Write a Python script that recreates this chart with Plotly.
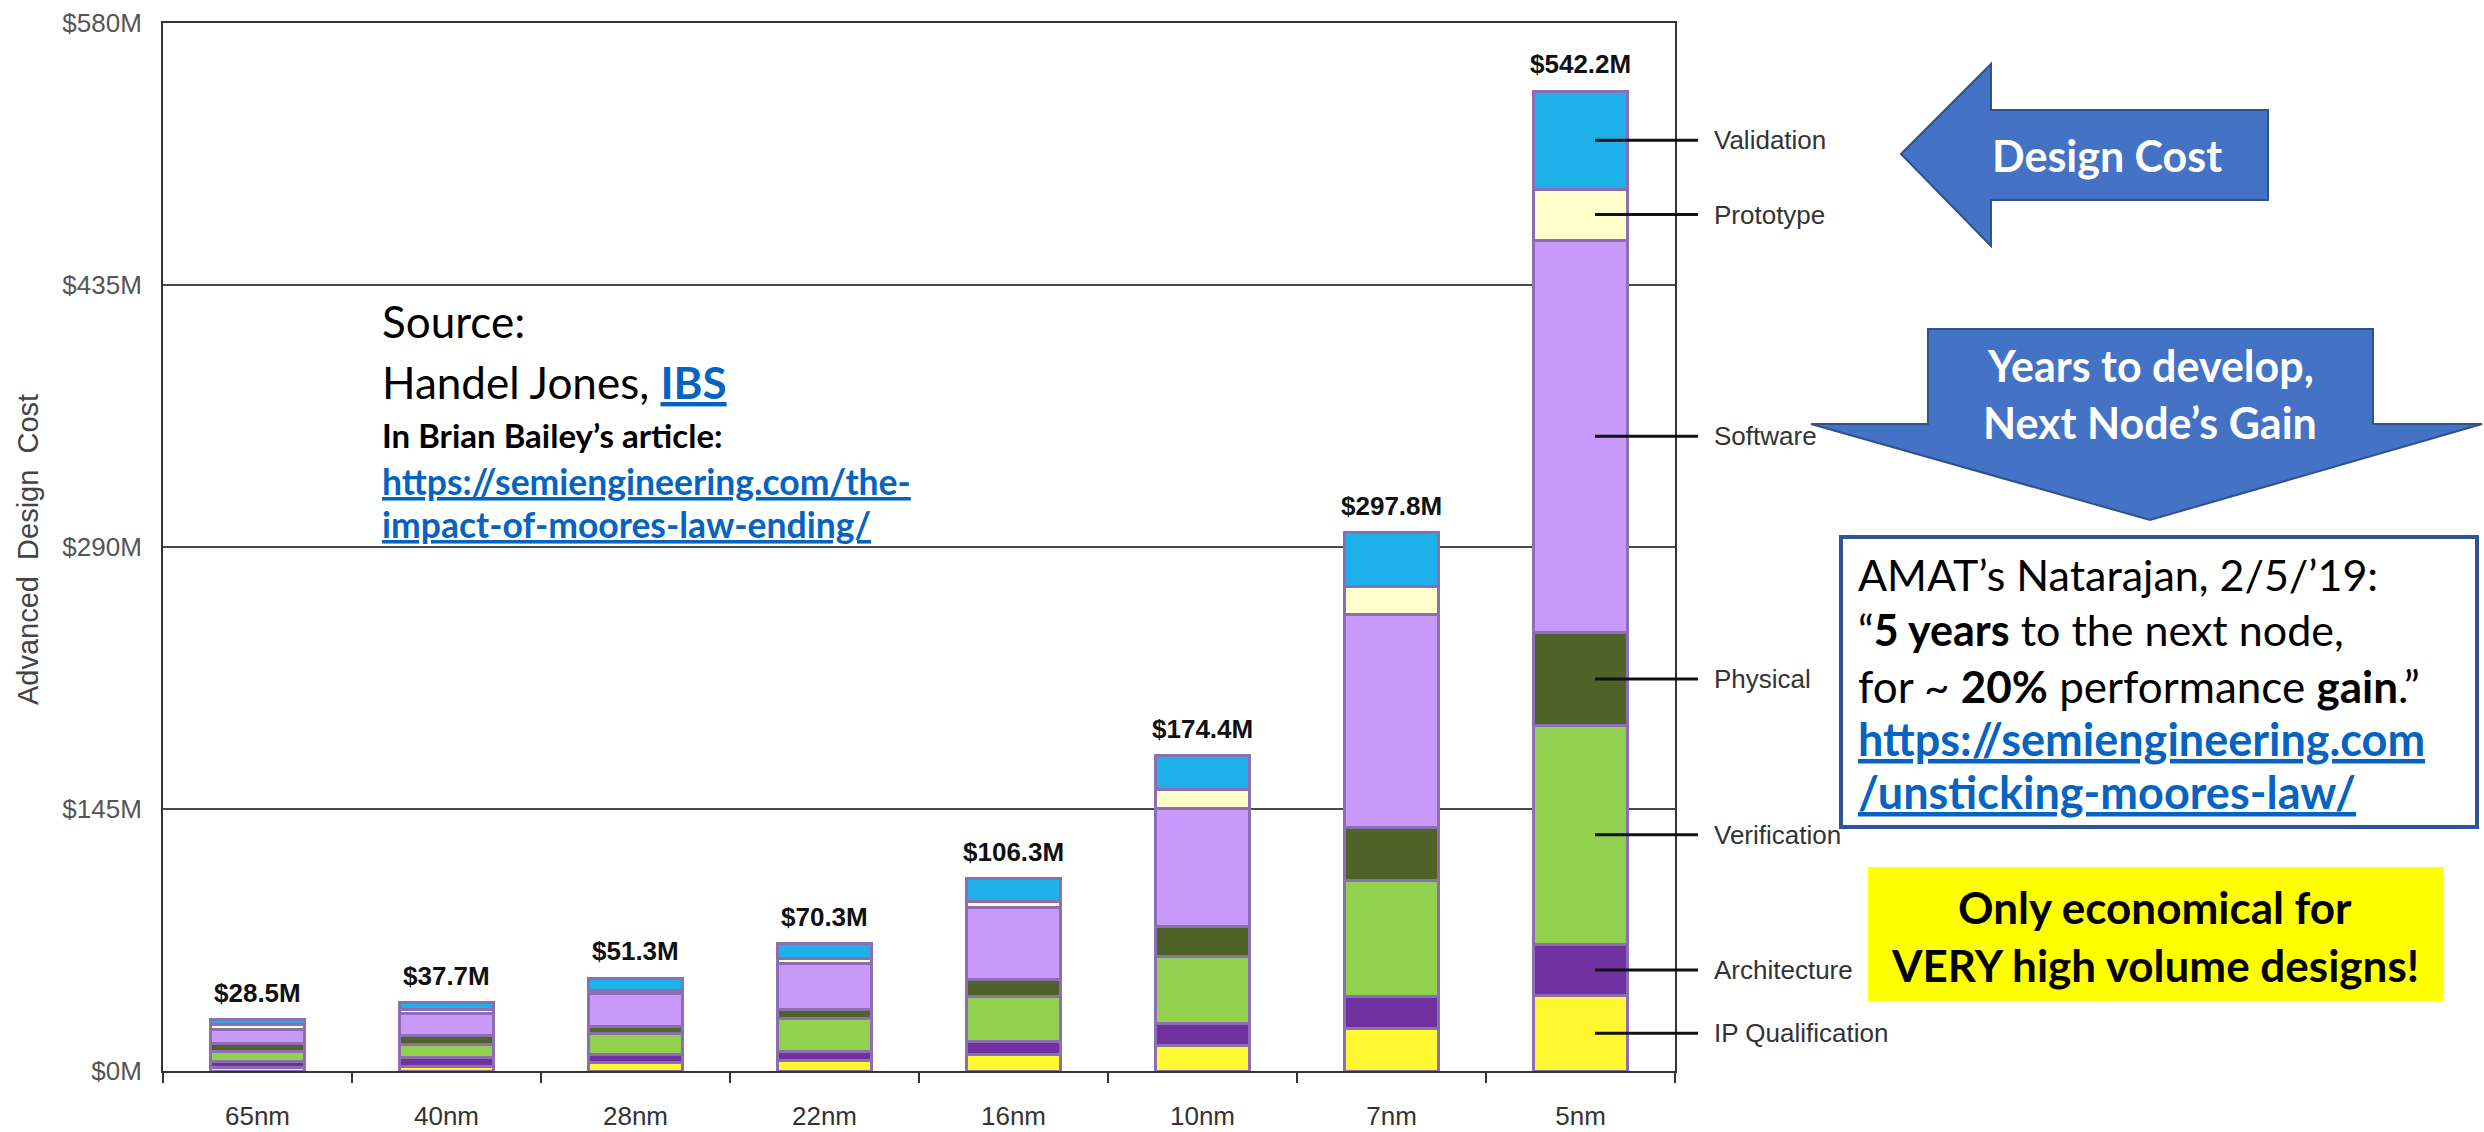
import plotly.graph_objects as go

# ---------------- data ----------------
nodes = ["65nm", "40nm", "28nm", "22nm", "16nm", "10nm", "7nm", "5nm"]
ip_qualification = [2.0, 2.7, 4.5, 5.8, 9.1, 14.2, 23.3, 41.7]
architecture = [3.5, 4.5, 4.5, 5.1, 7.5, 12.1, 18.2, 28.4]
verification = [5.5, 7.6, 11.8, 17.9, 24.9, 36.8, 64.1, 121.3]
physical = [4.0, 5.1, 3.6, 5.5, 9.1, 16.8, 28.9, 51.2]
software = [8.0, 11.8, 18.4, 25.0, 40.0, 65.6, 118.3, 217.3]
prototype = [2.5, 2.4, 1.8, 3.0, 3.4, 10.5, 15.2, 28.1]
validation = [3.0, 3.6, 6.7, 8.0, 12.3, 18.4, 29.8, 54.2]
totals = [28.5, 37.7, 51.3, 70.3, 106.3, 174.4, 297.8, 542.2]

series_names = ["IP Qualification", "Architecture", "Verification", "Physical",
                "Software", "Prototype", "Validation"]
series_values = [ip_qualification, architecture, verification, physical,
                 software, prototype, validation]
series_colors = ["#FFF830", "#7030A0", "#92D050", "#4F6228",
                 "#C999FA", "#FFFFCC", "#1EB0E8"]

y_tickvals = [0, 145, 290, 435, 580]
y_ticktext = ["$0M", "$145M", "$290M", "$435M", "$580M"]
Y_MAX = 580

# ---------------- layout geometry (pixels) ----------------
W, H = 2484, 1132
L, R, T, B = 163, 1675, 23, 1071


def px(x):
    return (x - L) / (R - L)


def py(y):
    return (B - y) / (B - T)


fig = go.Figure()
for name, vals, col in zip(series_names, series_values, series_colors):
    fig.add_trace(go.Bar(
        x=nodes, y=vals, name=name, width=0.5,
        marker=dict(color=col, line=dict(color="#8C6FB2", width=3)),
        hoverinfo="skip",
    ))

annotations = []
# totals on top of bars
for n, t in zip(nodes, totals):
    annotations.append(dict(
        x=n, y=t, xref="x", yref="y", text=f"<b>${t}M</b>", showarrow=False,
        yanchor="bottom", yshift=10,
        font=dict(family="Liberation Sans, Arial", size=26, color="#111111"),
    ))

# right-side component labels with leader lines, at 5nm segment midpoints
shapes = []
last = [v[-1] for v in series_values]
cum = 0
for name, v in zip(series_names, last):
    mid = cum + v / 2
    cum += v
    shapes.append(dict(type="line", xref="paper", yref="paper",
                       x0=px(1595), x1=px(1698), y0=mid / Y_MAX, y1=mid / Y_MAX,
                       line=dict(color="#111111", width=3)))
    annotations.append(dict(
        x=px(1712), y=mid, xref="paper", yref="y", text=name, showarrow=False,
        xanchor="left", yanchor="middle",
        font=dict(family="Liberation Sans, Arial", size=26, color="#333333"),
    ))

# y-axis title
annotations.append(dict(
    x=px(28), y=py(550), xref="paper", yref="paper",
    text="Advanced  Design  Cost", textangle=-90, showarrow=False,
    xanchor="center", yanchor="middle",
    font=dict(family="Liberation Sans Narrow, Liberation Sans, Arial", size=29, color="#444444"),
))

TXT = "Lato, Open Sans, sans-serif"
LINK = "#0563C1"


def txt(x, y, text, size, color="#000000", xanchor="left"):
    annotations.append(dict(
        x=px(x), y=py(y), xref="paper", yref="paper", text=text, showarrow=False,
        xanchor=xanchor, yanchor="middle", align="left",
        font=dict(family=TXT, size=size, color=color),
    ))


# Source block
txt(380, 321, "Source:", 44)
txt(380, 382, f"Handel Jones, <span style='color:{LINK}'><b><u>IBS</u></b></span>", 44)
txt(380, 435, "<b>In Brian Bailey’s article:</b>", 33)
txt(380, 481, f"<span style='color:{LINK}'><b><u>https://semiengineering.com/the-</u></b></span>", 35.5)
txt(380, 524, f"<span style='color:{LINK}'><b><u>impact-of-moores-law-ending/</u></b></span>", 35.5)

# Design Cost arrow (left)
shapes.append(dict(
    type="path", xref="paper", yref="paper",
    path=(f"M {px(1901)},{py(154)} L {px(1991)},{py(64)} L {px(1991)},{py(110)} "
          f"L {px(2268)},{py(110)} L {px(2268)},{py(200)} L {px(1991)},{py(200)} "
          f"L {px(1991)},{py(246)} Z"),
    fillcolor="#4472C4", line=dict(color="#2F528F", width=2),
))
txt(2107, 156, "<b>Design Cost</b>", 43, "#FFFFFF", xanchor="center")

# Down arrow
shapes.append(dict(
    type="path", xref="paper", yref="paper",
    path=(f"M {px(1928)},{py(329)} L {px(2373)},{py(329)} L {px(2373)},{py(424)} "
          f"L {px(2482)},{py(424)} L {px(2150)},{py(520)} L {px(1811)},{py(424)} "
          f"L {px(1928)},{py(424)} Z"),
    fillcolor="#4472C4", line=dict(color="#2F528F", width=2),
))
txt(2150, 366, "<b>Years to develop,</b>", 43, "#FFFFFF", xanchor="center")
txt(2150, 422, "<b>Next Node’s Gain</b>", 43, "#FFFFFF", xanchor="center")

# Quote box
shapes.append(dict(
    type="rect", xref="paper", yref="paper",
    x0=px(1841), x1=px(2477), y0=py(537), y1=py(827),
    fillcolor="#FFFFFF", line=dict(color="#2F5597", width=4),
))
txt(1856, 574, "AMAT’s Natarajan, 2/5/’19:", 43)
txt(1856, 630, "“<b>5 years</b> to the next node,", 43)
txt(1856, 686, "for ~ <b>20%</b> performance <b>gain</b>.”", 44)
txt(1856, 739, f"<span style='color:{LINK}'><b><u>https://semiengineering.com</u></b></span>", 45)
txt(1856, 792, f"<span style='color:{LINK}'><b><u>/unsticking-moores-law/</u></b></span>", 45)

# Yellow box
shapes.append(dict(
    type="rect", xref="paper", yref="paper",
    x0=px(1868), x1=px(2444), y0=py(867), y1=py(1001),
    fillcolor="#FFFF00", line=dict(width=0),
))
txt(2155, 907, "<b>Only economical for</b>", 44, xanchor="center")
txt(2155, 965, "<b>VERY high volume designs!</b>", 44, xanchor="center")

fig.update_layout(
    barmode="stack",
    width=W, height=H,
    margin=dict(l=L, r=W - R, t=T, b=H - B, pad=0, autoexpand=False),
    paper_bgcolor="#FFFFFF", plot_bgcolor="#FFFFFF",
    showlegend=False,
    annotations=annotations,
    shapes=shapes,
    xaxis=dict(
        type="category", range=[-0.5, 7.5], showline=True, mirror=True,
        linecolor="#333333", linewidth=2, ticks="outside", tickson="boundaries",
        ticklen=10, tickwidth=2, tickcolor="#333333", showgrid=False,
        ticklabelstandoff=21, automargin=False,
        tickfont=dict(family="Liberation Sans, Arial", size=26, color="#333333"),
    ),
    yaxis=dict(
        range=[0, Y_MAX], tickvals=y_tickvals, ticktext=y_ticktext,
        showline=True, mirror=True, linecolor="#333333", linewidth=2,
        showgrid=True, gridcolor="#4A4A4A", gridwidth=2, zeroline=False,
        ticks="", ticklabelstandoff=14, automargin=False,
        tickfont=dict(family="Liberation Sans, Arial", size=26, color="#555555"),
    ),
)

fig.write_html("out.html")
